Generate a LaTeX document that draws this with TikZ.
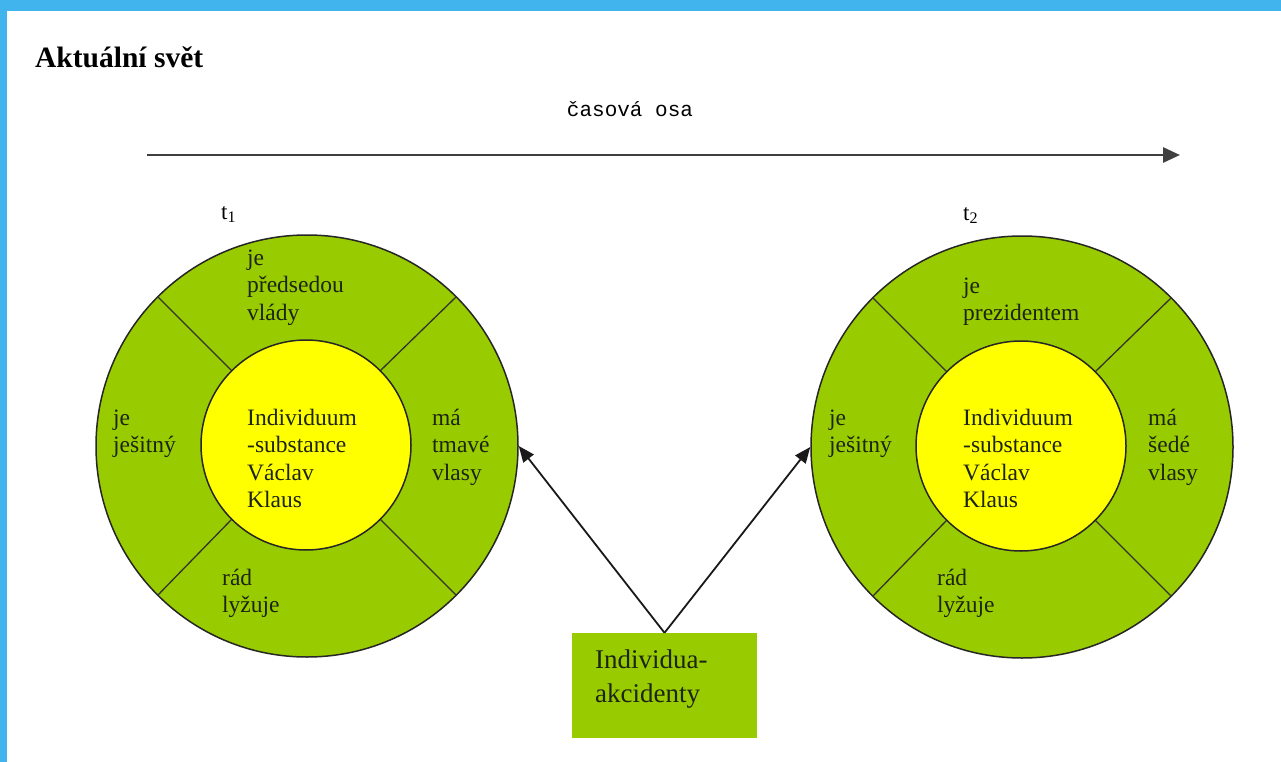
\documentclass[tikz,border=0pt]{standalone}
\usepackage{fontspec}
\setmainfont{Liberation Serif}
\newfontfamily\monofont{Liberation Mono}
\usetikzlibrary{arrows.meta}
\definecolor{frameblue}{HTML}{41B4EE}
\definecolor{accgreen}{HTML}{99CC00}
\definecolor{coreyellow}{HTML}{FFFF00}
\definecolor{txt}{HTML}{1C2414}
\tikzset{
  outerring/.style={circle, draw=black!85, line width=1.5pt, fill=accgreen, minimum size=422pt, inner sep=0pt},
  innercore/.style={circle, draw=black!85, line width=1.5pt, fill=coreyellow, minimum size=210pt, inner sep=0pt},
  divider/.style={draw=black!80, line width=1.3pt},
  lbl/.style={anchor=base west, align=left, inner sep=0pt, font=\fontsize{23.5}{27.5}\selectfont, text=txt},
  arr/.style={draw=black!90, line width=1.8pt, -{Triangle[length=16pt,width=13pt]}},
  timearr/.style={draw=black!75, line width=2.8pt, -{Triangle[length=17pt,width=15pt]}},
  accbox/.style={rectangle, fill=accgreen, minimum width=185pt, minimum height=105pt, inner sep=0pt},
}
\begin{document}
\begin{tikzpicture}[x=1pt,y=-1pt]
\useasboundingbox (0,0) rectangle (1281,762);
\fill[white] (0,0) rectangle (1281,762);
\fill[frameblue] (0,0) rectangle (1281,11);
\fill[frameblue] (0,0) rectangle (7,762);

% title
\node[anchor=base west, inner sep=0pt, font=\fontsize{29.5}{34}\selectfont\bfseries] (title) at (35,68) {Aktuální svět};

% time axis
\node[inner sep=0pt, font=\monofont\fontsize{21}{25}\selectfont, anchor=base] (axislbl) at (630,117) {časová osa};
\coordinate (axstart) at (147,155);
\coordinate (axend) at (1180,155);
\draw[timearr] (axstart) -- (axend);

% time labels
\node[anchor=base west, inner sep=0pt, font=\fontsize{23}{27}\selectfont] (t1) at (221,219) {t\textsubscript{1}};
\node[anchor=base west, inner sep=0pt, font=\fontsize{23}{27}\selectfont] (t2) at (963,220) {t\textsubscript{2}};

% left circle
\node[outerring] (c1) at (307,446) {};
\node[innercore] (c1in) at (306,445) {};
\foreach \a in {45,135,225,315} \draw[divider] (c1in.\a) -- (c1.\a);

% right circle
\node[outerring] (c2) at (1022,447) {};
\node[innercore] (c2in) at (1021,446) {};
\foreach \a in {45,135,225,315} \draw[divider] (c2in.\a) -- (c2.\a);

% left circle texts (anchor = baseline of last line)
\node[lbl] (l1top) at (247,320) {je\\předsedou\\vlády};
\node[lbl] (l1left) at (113,452.5) {je\\ješitný};
\node[lbl] (l1right) at (432,480) {má\\tmavé\\vlasy};
\node[lbl] (l1bot) at (222,612.5) {rád\\lyžuje};
\node[lbl] (l1core) at (247,507.5) {Individuum\\-substance\\Václav\\Klaus};

% right circle texts
\node[lbl] (l2top) at (963,320.5) {je\\prezidentem};
\node[lbl] (l2left) at (829,452.5) {je\\ješitný};
\node[lbl] (l2right) at (1148,480) {má\\šedé\\vlasy};
\node[lbl] (l2bot) at (937,612.5) {rád\\lyžuje};
\node[lbl] (l2core) at (963,507.5) {Individuum\\-substance\\Václav\\Klaus};

% accidents box
\node[accbox] (acc) at (664.5,685.5) {};
\node[anchor=base west, align=left, inner sep=0pt, font=\fontsize{27}{34}\selectfont, text=txt] (acctext) at (595,702) {Individua-\\akcidenty};

% arrows
\draw[arr] (acc.north) -- (c1.east);
\draw[arr] (acc.north) -- (c2.west);
\end{tikzpicture}
\end{document}
